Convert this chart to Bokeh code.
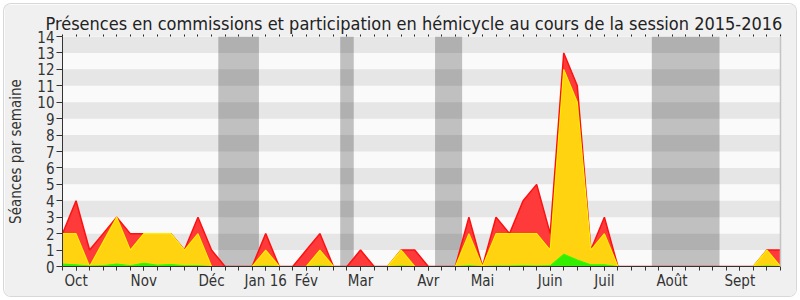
from bokeh.plotting import figure
from bokeh.models import Range1d, FixedTicker, LinearAxis
from bokeh.embed import file_html
from bokeh.resources import INLINE

# ---- data (weekly values, session 2015-2016) ----
weeks = list(range(54))
seances_hemicycle = [2, 4, 1, 2, 3, 2, 2, 2, 2, 1,
                     3, 1, 0, 0, 0, 2, 0, 0, 1, 2,
                     0, 0, 1, 0, 0, 1, 1, 0, 0, 0,
                     3, 0, 3, 2, 4, 5, 2, 13, 11, 1,
                     3, 0, 0, 0, 0, 0, 0, 0, 0, 0,
                     0, 0, 1, 1]
presences_commission = [2, 2, 0, 1.5, 3, 1, 2, 2, 2, 1,
                        2, 0, 0, 0, 0, 1, 0, 0, 0, 1,
                        0, 0, 0, 0, 0, 1, 0, 0, 0, 0,
                        2, 0, 2, 2, 2, 2, 1, 12, 10, 1,
                        2, 0, 0, 0, 0, 0, 0, 0, 0, 0,
                        0, 0, 1, 0]
participation = [0.15, 0.1, 0.03, 0.05, 0.15, 0.05, 0.2, 0.08, 0.12, 0.05,
                 0.05, 0, 0, 0, 0, 0.03, 0, 0, 0, 0.03,
                 0, 0, 0, 0, 0, 0.03, 0, 0, 0, 0,
                 0.05, 0, 0.03, 0.03, 0.05, 0.03, 0.05, 0.75, 0.4, 0.1,
                 0.1, 0, 0, 0, 0, 0, 0, 0, 0, 0,
                 0, 0, 0.03, 0]
month_weeks = [1, 6, 11, 15, 18, 22, 27, 31, 36, 40, 45, 50]
month_labels = ["Oct", "Nov", "Déc", "Jan 16", "Fév", "Mar", "Avr", "Mai",
                "Juin", "Juil", "Août", "Sept"]
vacances_debut = [11.5, 20.5, 27.5, 43.5]
vacances_fin = [14.5, 21.5, 29.5, 48.5]
y_ticks = list(range(15))

FONT = "DejaVu Sans Condensed"

p = figure(width=792, height=292, output_backend="svg", toolbar_location=None,
           x_range=Range1d(weeks[0], weeks[-1]), y_range=Range1d(0, 14),
           min_border_left=58, min_border_right=16, min_border_top=32,
           min_border_bottom=30)
p.margin = (4, 4, 4, 4)
p.styles = {"border-radius": "7px", "overflow": "hidden",
            "box-shadow": "0 0 0 1px #d8d8d8"}
p.background_fill_color = "#fafafa"
p.border_fill_color = "#f0f0f0"
p.outline_line_color = None
p.grid.visible = False

# horizontal stripes
p.quad(left=weeks[0], right=weeks[-1], bottom=y_ticks[1:-1:2], top=y_ticks[2::2],
       fill_color="#e6e6e6", line_color=None)
# vacation bands
p.quad(left=vacances_debut, right=vacances_fin, bottom=0, top=14,
       fill_color="black", fill_alpha=0.23, line_color=None)

# areas
p.varea(x=weeks, y1=0, y2=seances_hemicycle, fill_color="#ff3a3a")
p.line(weeks, seances_hemicycle, line_color="#ff1010", line_width=1.5)
p.varea(x=weeks, y1=0, y2=presences_commission, fill_color="#ffd30f")
p.line(weeks, presences_commission, line_color="#ffee00", line_width=1.2)
p.varea(x=weeks, y1=0, y2=participation, fill_color="#33ee00")
p.line(weeks, participation, line_color="#22ff00", line_width=1)

# y axis
ya = p.yaxis[0]
ya.ticker = FixedTicker(ticks=y_ticks)
ya.axis_label = "Séances par semaine"
ya.axis_label_text_font = FONT
ya.axis_label_text_font_size = "15px"
ya.axis_label_text_font_style = "normal"
ya.axis_label_text_color = "#333333"
ya.axis_label_standoff = 9
ya.major_label_text_font = FONT
ya.major_label_text_font_size = "15px"
ya.major_label_text_color = "#333333"
ya.major_tick_out = 6
ya.major_tick_in = 0
ya.major_label_standoff = 2
ya.axis_line_color = "#333333"
ya.major_tick_line_color = "#333333"

# x axis
xa = p.xaxis[0]
xa.ticker = FixedTicker(ticks=month_weeks, minor_ticks=weeks)
xa.major_label_overrides = {w: l for w, l in zip(month_weeks, month_labels)}
xa.major_label_text_font = FONT
xa.major_label_text_font_size = "15px"
xa.major_label_text_color = "#333333"
xa.major_tick_out = 4
xa.major_tick_in = 0
xa.minor_tick_out = 4
xa.minor_tick_in = 0
xa.major_label_standoff = 1
xa.axis_line_color = "#333333"
xa.major_tick_line_color = "#333333"
xa.minor_tick_line_color = "#333333"

# top axis with small ticks only (labels not drawn)
ta = LinearAxis(ticker=FixedTicker(ticks=weeks))
ta.major_label_overrides = {w: "" for w in weeks}
ta.major_label_text_color = None
ta.major_label_text_font_size = "1px"
ta.major_tick_out = 2
ta.major_tick_in = 0
ta.minor_tick_line_color = None
ta.axis_line_color = None
ta.major_tick_line_color = "#222222"
ta.major_label_standoff = 0
p.add_layout(ta, "above")

# right border line
ra = LinearAxis(ticker=FixedTicker(ticks=[]))
ra.major_label_text_color = None
ra.major_label_text_font_size = "1px"
ra.major_tick_line_color = None
ra.minor_tick_line_color = None
ra.axis_line_color = "#c4c4c4"
ra.axis_line_width = 1.5
p.add_layout(ra, "right")

p.title.text = "Présences en commissions et participation en hémicycle au cours de la session 2015-2016"
p.title.text_font = FONT
p.title.text_font_size = "18px"
p.title.text_font_style = "normal"
p.title.text_color = "#222222"
p.title.align = "left"
p.title.offset = -17
p.title.standoff = 2

open("out.html", "w").write(file_html(p, INLINE))
